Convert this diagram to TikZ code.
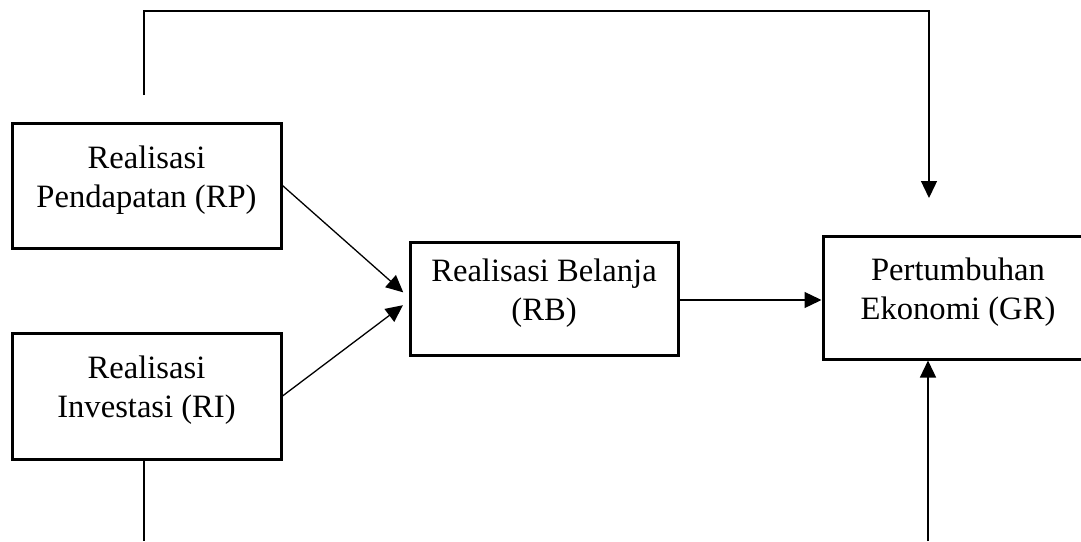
\documentclass[tikz,border=0pt]{standalone}
\usepackage{fontspec}
\setmainfont{Liberation Serif}
\usetikzlibrary{arrows.meta}
\tikzset{
	varnode/.style = {
		align=center,
		inner sep=0pt,
		text centered,
		font=\fontsize{16.3pt}{19.5pt}\selectfont,
		text depth=9pt,
		rectangle,
		draw=black,
		line width=1.5pt,
		minimum width=134.5pt,
		minimum height=62.5pt
	},
	link/.style = {
		line width=0.65pt
	},
}

\begin{document}
\begin{tikzpicture}[x=0.5pt,y=-0.5pt,>={Triangle[length=8.5pt,width=8pt]}]
\useasboundingbox (0,0) rectangle (1081,541);
\node [varnode] (rp) at (146.5,185.5) {Realisasi\\Pendapatan (RP)};
\node [varnode, minimum height=63pt] (ri) at (146.5,396) {Realisasi\\Investasi (RI)};
\node [varnode, minimum width=134pt, minimum height=56.5pt] (rb) at (544,298.5) {Realisasi Belanja\\(RB)};
\node [varnode, minimum width=135pt, minimum height=61.5pt] (gr) at (958,297.5) {Pertumbuhan\\Ekonomi (GR)};
% free ends of the outer lines
\coordinate (rp_top) at (144,95);
\coordinate (top_left) at (144,11);
\coordinate (gr_in) at (929,198);
\coordinate (ri_bot) at (144,541);
\coordinate (gr_bot) at (928,541);
\draw [link,->,shorten >=3.5pt] (rp.east) -- ([yshift=0.75pt]rb.west);
\draw [link,->,shorten >=3.5pt] (ri.east) -- ([yshift=-1.25pt]rb.west);
\draw [link,->] ([yshift=-0.75pt]rb.east) -- ([yshift=-0.75pt]rb.east -| gr.west);
\draw [link,->] (rp_top) -- (top_left) -| (gr_in);
\draw [link] (ri_bot |- ri.south) -- (ri_bot);
\draw [link,->] (gr_bot) -- (gr_bot |- gr.south);
\end{tikzpicture}
\end{document}
